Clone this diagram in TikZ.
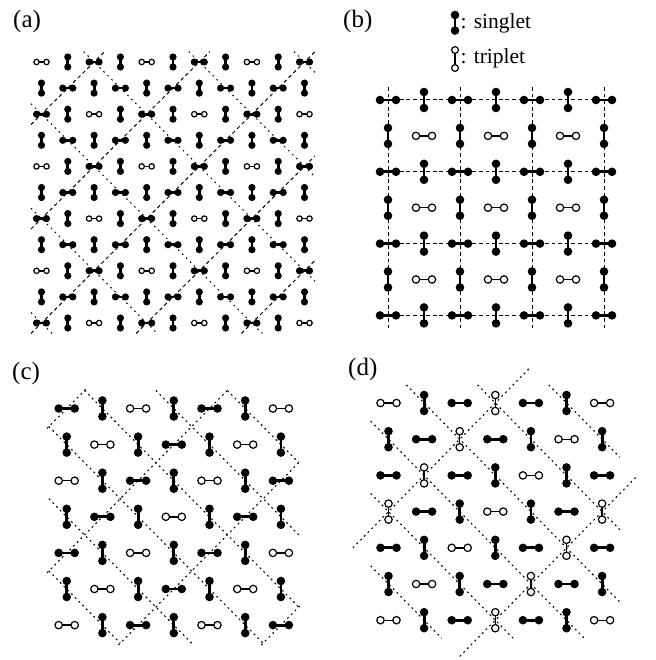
\documentclass[tikz,border=0pt]{standalone}
\usepackage{fontspec}
\setmainfont{Liberation Serif}
\tikzset{
  bondS/.style={line width=2.8pt, line cap=butt},
  bondT/.style={line width=1.4pt},
  ringT/.style={line width=1.2pt, fill=white},
  sing/.pic={\draw[bondS] (0pt,-\dh pt) -- (0pt,\dh pt);
     \fill (0pt,-\dh pt) circle[radius=\dr pt];
     \fill (0pt,\dh pt) circle[radius=\dr pt];},
  trip/.pic={\draw[bondT] (0pt,-\dh pt) -- (0pt,\dh pt);
     \draw[ringT] (0pt,-\dh pt) circle[radius=\tr pt];
     \draw[ringT] (0pt,\dh pt) circle[radius=\tr pt];},
  lab/.style={font=\fontsize{25}{25}\selectfont, anchor=base west, inner sep=0pt},
  legtxt/.style={font=\fontsize{21.5}{22}\selectfont, anchor=base west, inner sep=0pt},
  dashA/.style={line width=1pt, dash pattern=on 3.6pt off 3pt},
  dotA/.style={line width=1pt, dash pattern=on 1.6pt off 4pt},
  dashB/.style={line width=1pt, dash pattern=on 3.8pt off 2.8pt},
  dotC/.style={line width=1.1pt, dash pattern=on 1.8pt off 3.5pt},
}
\newcommand\putdimer[3]{% type, x, y (grid units)
  \ifcase#1
    \pic at (#2,#3) {sing};
  \or
    \pic[rotate=90] at (#2,#3) {sing};
  \or
    \pic[rotate=90] at (#2,#3) {trip};
  \or
    \pic at (#2,#3) {trip};
  \fi}
\begin{document}
\begin{tikzpicture}[x=1pt,y=-1pt]
\useasboundingbox (0,0) rectangle (655,660);
\fill[white] (0,0) rectangle (655,660);

% labels
\node[lab] at (13,28) {(a)};
\node[lab] at (343,28) {(b)};
\node[lab] at (12,379) {(c)};
\node[lab] at (348,375) {(d)};

% legend
\def\dh{7.8}\def\dr{4.3}\def\tr{3.4}
\pic at (455,22.8) {sing};
\node[legtxt] at (460.5,28.5) {: singlet};
\def\dh{9}
\pic at (455,59) {trip};
\node[legtxt] at (460.5,64) {: triplet};

% ---------------- panel (a)
\begin{scope}[shift={(41.5pt,-62pt)}, x=26.3pt, y=-26.1pt]
  \def\dh{5}\def\dr{3.6}\def\tr{2.7}
  \foreach \c in {2,6,10,14,18}{
    \pgfmathsetmacro\ia{min(10,\c)}\pgfmathsetmacro\ja{\c-\ia}
    \pgfmathsetmacro\ib{max(0,\c-10)}\pgfmathsetmacro\jb{\c-\ib}
    \draw[dashA] ({\ja-0.4},{\ia+0.4}) -- ({\jb+0.4},{\ib-0.4});
  }
  \foreach \d in {-10,-6,-2,2,6,10}{
    \pgfmathsetmacro\ia{max(0,-1*(\d))}\pgfmathsetmacro\ja{\ia+\d}
    \pgfmathsetmacro\ib{min(10,10-\d)}\pgfmathsetmacro\jb{\ib+\d}
    \draw[dotA] ({\ja-0.4},{\ia-0.4}) -- ({\jb+0.4},{\ib+0.4});
  }
  \foreach \i in {0,...,10}{
    \foreach \j in {0,...,10}{
      \pgfmathtruncatemacro\dtype{mod(\i+\j,2)==1 ? 0 : (mod(\i,2)==1 ? 1 : (mod(\i+\j,4)==0 ? 2 : 1))}
      \putdimer{\dtype}{\j}{\i}
    }
  }
\end{scope}

% ---------------- panel (b)
\begin{scope}[shift={(388pt,-100pt)}, x=36pt, y=-35.9pt]
  \def\dh{8}\def\dr{4.3}\def\tr{3.7}
  \foreach \k in {0,2,4,6}{
    \draw[dashB] (-0.22,\k) -- (6.25,\k);
    \draw[dashB] (\k,-0.36) -- (\k,6.43);
  }
  \foreach \i in {0,...,6}{
    \foreach \j in {0,...,6}{
      \pgfmathtruncatemacro\dtype{mod(\i+\j,2)==1 ? 0 : (mod(\i,2)==0 ? 1 : 2)}
      \putdimer{\dtype}{\j}{\i}
    }
  }
\end{scope}

% ---------------- panel (c)
\begin{scope}[shift={(66.7pt,-408.5pt)}, x=35.7pt, y=-36.1pt]
  \def\dh{8}\def\dr{4.3}\def\tr{3.7}
  \foreach \c in {0,4,8,12}{
    \pgfmathsetmacro\ia{min(6,\c)}\pgfmathsetmacro\ja{\c-\ia}
    \pgfmathsetmacro\ib{max(0,\c-6)}\pgfmathsetmacro\jb{\c-\ib}
    \draw[dotC] ({\ja-0.55},{\ia+0.55}) -- ({\jb+0.55},{\ib-0.55});
  }
  \foreach \d in {-5,-3,-1,1,3,5}{
    \pgfmathsetmacro\ia{max(0,-1*(\d))}\pgfmathsetmacro\ja{\ia+\d}
    \pgfmathsetmacro\ib{min(6,6-\d)}\pgfmathsetmacro\jb{\ib+\d}
    \draw[dotC] ({\ja-0.5},{\ia-0.5}) -- ({\jb+0.5},{\ib+0.5});
  }
  \foreach \i in {0,...,6}{
    \foreach \j in {0,...,6}{
      \pgfmathtruncatemacro\dtype{mod(\i+\j,2)==1 ? 0 : (mod(\i+\j,4)==0 ? 1 : 2)}
      \putdimer{\dtype}{\j}{\i}
    }
  }
\end{scope}

% ---------------- panel (d)
\begin{scope}[shift={(388.5pt,-403pt)}, x=35.6pt, y=-36.2pt]
  \def\dh{8}\def\dr{4.3}\def\tr{3.7}
  \foreach \c in {3,9}{
    \pgfmathsetmacro\ia{min(6,\c)}\pgfmathsetmacro\ja{\c-\ia}
    \pgfmathsetmacro\ib{max(0,\c-6)}\pgfmathsetmacro\jb{\c-\ib}
    \draw[dotC] ({\ja-1},{\ia+1}) -- ({\jb+1},{\ib-1});
  }
  \foreach \d in {-5,-3,-1,1,3,5}{
    \pgfmathsetmacro\ia{max(0,-1*(\d))}\pgfmathsetmacro\ja{\ia+\d}
    \pgfmathsetmacro\ib{min(6,6-\d)}\pgfmathsetmacro\jb{\ib+\d}
    \draw[dotC] ({\ja-0.5},{\ia-0.5}) -- ({\jb+0.5},{\ib+0.5});
  }
  \foreach \i in {0,...,6}{
    \foreach \j in {0,...,6}{
      \pgfmathtruncatemacro\dtype{mod(\i+\j,2)==1 ? (mod(\i+\j,6)==3 ? 3 : 0) : (mod(\i+\j,6)==0 ? 2 : 1)}
      \putdimer{\dtype}{\j}{\i}
    }
  }
\end{scope}
\end{tikzpicture}
\end{document}
